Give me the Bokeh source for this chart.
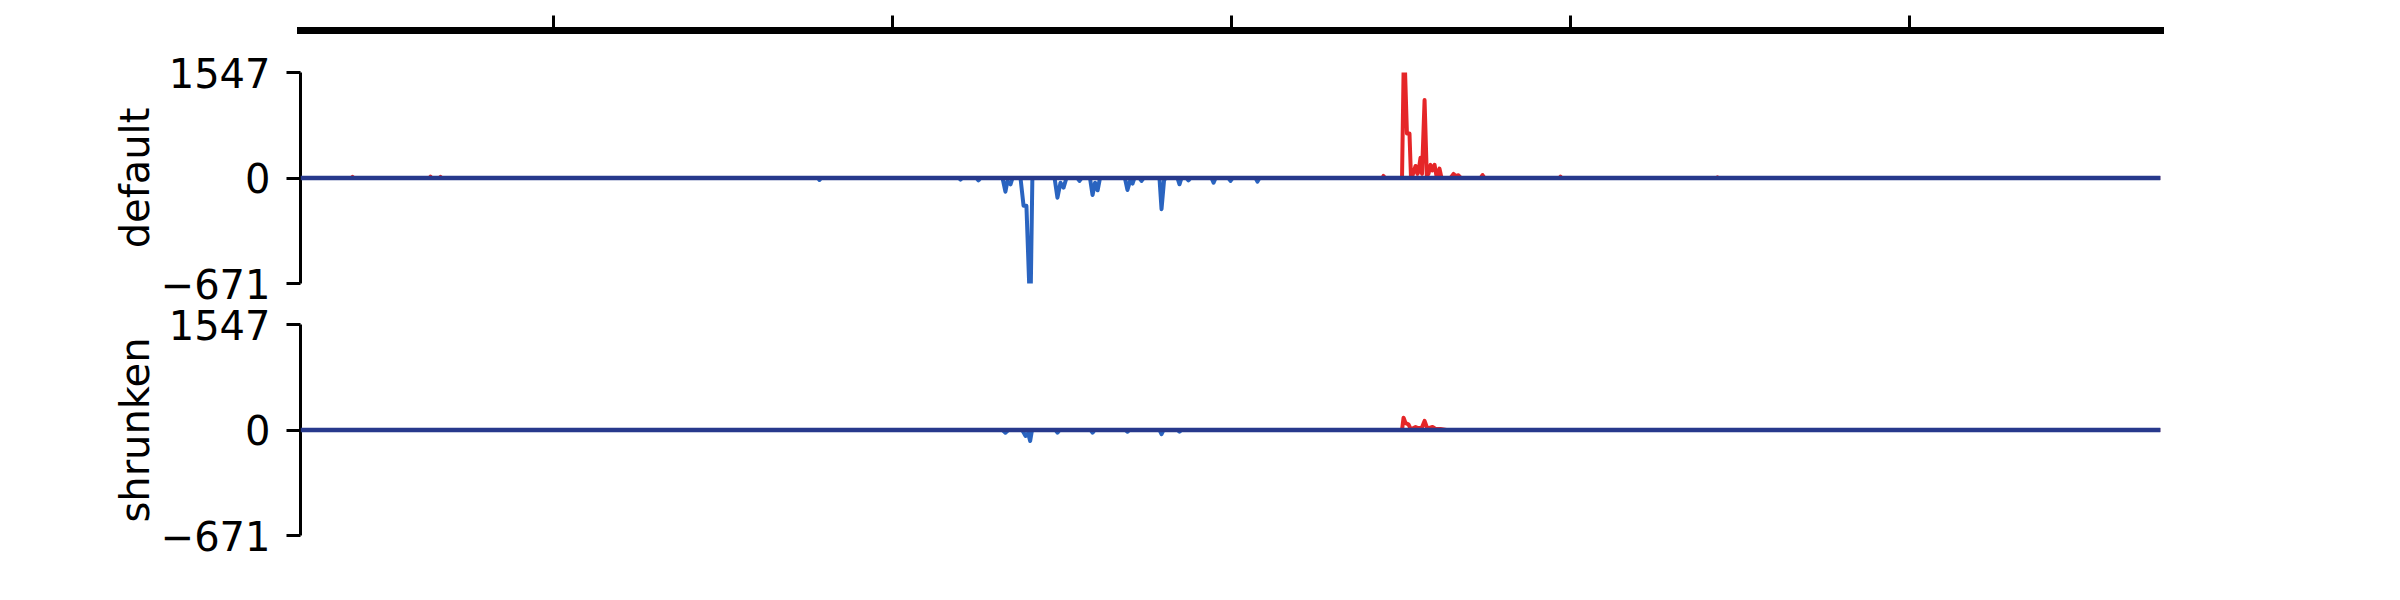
import numpy as np
from bokeh.plotting import figure
from bokeh.layouts import column
from bokeh.models import Range1d, FixedTicker, Span
from bokeh.embed import file_html
from bokeh.resources import INLINE

# ---------------- data (genomic position in kb, signal value) ----------------
region_start_kb = 850.7
region_end_kb = 1948.1
axis_ticks_kb = [1000, 1200, 1400, 1600, 1800]

y_max = 1547
y_min = -671
track_names = ["default", "shrunken"]

# "default" track, positive (red) signal
default_pos_x = [850.7, 880.8, 881.4, 882.0, 926.8, 927.4, 928.0, 932.7, 933.3, 933.9,
                 1489.1, 1489.7, 1490.3, 1500.6, 1501.5, 1502.4, 1503.5, 1505.0, 1505.9,
                 1506.8, 1508.6, 1509.7, 1510.3, 1511.5, 1512.4, 1513.9, 1515.2, 1516.2,
                 1517.4, 1518.4, 1519.8, 1521.0, 1522.7, 1523.9, 1529.2, 1531.0, 1532.2,
                 1533.9, 1535.4, 1546.9, 1548.1, 1549.3, 1593.5, 1594.1, 1594.7, 1686.1,
                 1686.7, 1687.3, 1948.1]
default_pos_y = [0, 0, 15, 0, 0, 20, 0, 0, 15, 0,
                 0, 30, 0, 0, 1547, 1547, 652, 652, 0,
                 40, 177, 60, 90, 295, 60, 1144, 40, 60,
                 192, 110, 192, 20, 137, 0, 0, 59, 30,
                 40, 0, 0, 44, 0, 0, 20, 0, 0,
                 10, 0, 0]

# "default" track, negative (blue) signal
default_neg_x = [850.7, 1156.0, 1156.9, 1157.8, 1239.2, 1240.1, 1241.0, 1249.5, 1250.7, 1251.9,
                 1264.9, 1266.6, 1267.8, 1269.6, 1270.8, 1275.5, 1277.3, 1279.0, 1280.6,
                 1281.6, 1282.5, 1295.6, 1297.3, 1299.1, 1300.9, 1302.6, 1309.1, 1310.3,
                 1311.5, 1316.5, 1318.0, 1319.5, 1321.0, 1322.4, 1337.1, 1338.6, 1340.1,
                 1341.6, 1342.7, 1345.7, 1346.9, 1348.1, 1357.5, 1358.7, 1360.2, 1361.1,
                 1368.1, 1369.3, 1370.5, 1373.4, 1374.6, 1375.8, 1388.2, 1389.4, 1390.6,
                 1398.2, 1399.4, 1400.6, 1414.2, 1415.3, 1416.5, 1948.1]
default_neg_y = [0, 0, -12, 0, 0, -10, 0, 0, -15, 0,
                 0, -87, -20, -40, 0, 0, -177, -177, -671,
                 -671, 0, 0, -125, -30, -61, 0, 0, -19,
                 0, 0, -108, -30, -78, 0, 0, -76, -20,
                 -36, 0, 0, -19, 0, 0, -198, -15, 0,
                 0, -40, 0, 0, -15, 0, 0, -30, 0,
                 0, -19, 0, 0, -23, 0, 0]

# "shrunken" track, positive (red) signal
shrunken_pos_x = [850.7, 1500.6, 1501.5, 1502.7, 1504.4, 1505.6, 1506.8, 1508.6, 1510.3,
                  1512.4, 1513.9, 1515.4, 1516.8, 1518.6, 1520.4, 1523.3, 1526.8, 1948.1]
shrunken_pos_y = [0, 0, 181, 100, 84, 20, 20, 44, 25,
                  40, 133, 30, 30, 44, 15, 15, 0, 0]

# "shrunken" track, negative (blue) signal
shrunken_neg_x = [850.7, 1264.9, 1266.6, 1268.4, 1276.5, 1278.5, 1280.0, 1281.2, 1282.3,
                  1296.2, 1297.3, 1298.5, 1316.9, 1318.0, 1319.2, 1337.4, 1338.6, 1339.8,
                  1357.5, 1358.7, 1359.9, 1368.1, 1369.3, 1370.5, 1948.1]
shrunken_neg_y = [0, 0, -17, 0, 0, -38, -20, -70, 0,
                  0, -17, 0, 0, -17, 0, 0, -11, 0,
                  0, -27, 0, 0, -10, 0, 0]

# ---------------- styling ----------------
FONT = "DejaVu Sans"
RED = "#e41a1c"
BLUE = "#1f5cbd"
NAVY = "#27398c"
LEFT = 300
FRAME_W = 1860
RIGHT = 224
TOTAL_W = LEFT + FRAME_W + RIGHT
FRAME_H = 211


def scale(v):
    v = np.asarray(v, dtype=float)
    return np.where(v >= 0, v / y_max, v / -y_min)


x_range = Range1d(region_start_kb, region_end_kb)

# ---------------- top coordinate axis ----------------
pa = figure(width=TOTAL_W, height=50, x_range=x_range, y_range=Range1d(0, 1),
            toolbar_location=None, output_backend="svg",
            min_border_left=LEFT, min_border_right=RIGHT,
            min_border_top=0, min_border_bottom=20,
            y_axis_location=None, x_axis_location="below")
pa.outline_line_color = None
pa.grid.visible = False
ax = pa.xaxis[0]
ax.ticker = FixedTicker(ticks=axis_ticks_kb)
ax.axis_line_width = 7
ax.axis_line_cap = "square"
ax.major_tick_in = 15
ax.major_tick_out = 0
ax.major_tick_line_width = 3
ax.minor_tick_line_color = None
ax.major_label_overrides = {t: "" for t in axis_ticks_kb}
ax.major_label_text_font_size = "1px"


def make_track(name, px, py, nx, ny, top, bottom):
    p = figure(width=TOTAL_W, height=top + FRAME_H + bottom, x_range=x_range,
               y_range=Range1d(-1, 1), toolbar_location=None, output_backend="svg",
               min_border_left=LEFT, min_border_right=RIGHT,
               min_border_top=top, min_border_bottom=bottom,
               x_axis_location=None)
    p.outline_line_color = None
    p.grid.visible = False
    p.line(px, scale(py), line_color=RED, line_width=4, line_join="round", line_alpha=0.95)
    p.line(nx, scale(ny), line_color=BLUE, line_width=4, line_join="round", line_alpha=0.95)
    p.add_layout(Span(location=0, dimension="width", line_color=NAVY, line_width=4.5))
    ya = p.yaxis[0]
    ya.ticker = FixedTicker(ticks=[-1, 0, 1])
    ya.major_label_overrides = {-1: str(y_min).replace("-", "\u2212"), 0: "0", 1: str(y_max)}
    ya.axis_line_width = 3
    ya.major_tick_line_width = 3
    ya.major_tick_out = 14
    ya.major_tick_in = 0
    ya.minor_tick_line_color = None
    ya.major_label_text_font = FONT
    ya.major_label_text_font_size = "40px"
    ya.major_label_text_color = "black"
    ya.major_label_standoff = 16
    ya.axis_label = name
    ya.axis_label_text_font = FONT
    ya.axis_label_text_font_size = "40px"
    ya.axis_label_text_font_style = "normal"
    ya.axis_label_text_color = "black"
    ya.axis_label_standoff = 0
    return p


p1 = make_track(track_names[0], default_pos_x, default_pos_y, default_neg_x, default_neg_y, 22, 20)
p2 = make_track(track_names[1], shrunken_pos_x, shrunken_pos_y, shrunken_neg_x, shrunken_neg_y, 21, 30)

layout = column(pa, p1, p2, spacing=0)
open("out.html", "w").write(file_html(layout, INLINE))
